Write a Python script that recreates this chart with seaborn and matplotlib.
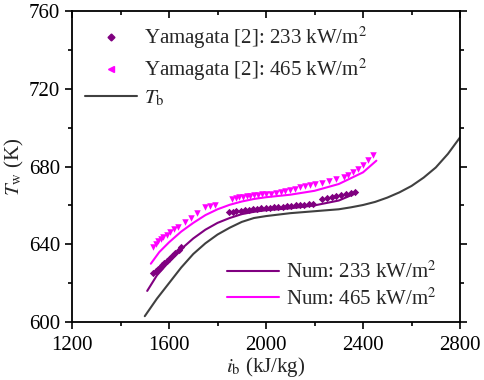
import numpy as np
import pandas as pd
import matplotlib
matplotlib.use("Agg")
import matplotlib.pyplot as plt
import seaborn as sns
from matplotlib.lines import Line2D
from matplotlib.ticker import MultipleLocator

# Bulk fluid temperature T_b vs enthalpy
tb_ib = [1500, 1550, 1600, 1650, 1700, 1750, 1800, 1850, 1900, 1950, 2000, 2100, 2200, 2300,
         2350, 2400, 2450, 2500, 2550, 2600, 2650, 2700, 2750, 2800]
tb_t = [603, 612, 620, 628, 635, 640.5, 645, 648.5, 651.5, 653.5, 654.5, 656, 657, 658,
        659, 660.2, 661.8, 664, 666.7, 670, 674.3, 679.5, 686.5, 695]

# Numerical results
num233_ib = [1510, 1550, 1600, 1650, 1700, 1750, 1800, 1850, 1900, 1950, 2000, 2100, 2200, 2300, 2375]
num233_t = [616, 624, 631, 637.5, 643, 647.5, 651, 653.5, 655.5, 656.7, 657.5, 658.5, 660, 662.5, 666.5]
num465_ib = [1525, 1560, 1600, 1650, 1700, 1750, 1800, 1850, 1900, 1950, 2000, 2100, 2200, 2300, 2400, 2455]
num465_t = [630, 636, 641, 646.5, 651, 655, 658, 660.3, 662, 663.3, 664.2, 665.5, 667.5, 671, 677, 683]

# Yamagata [2] experimental data
y233_ib = [1535, 1545, 1555, 1562, 1570, 1580, 1590, 1600, 1612, 1625, 1640, 1650,
           1846, 1862, 1878, 1895, 1912, 1928, 1945, 1962, 1980, 1998, 2015, 2032,
           2050, 2068, 2086, 2104, 2122, 2140, 2158, 2176, 2194,
           2230, 2250, 2270, 2290, 2310, 2330, 2350, 2368]
y233_t = [625, 626.5, 627.5, 628, 629.5, 630.5, 631.5, 632.5, 634, 635.5, 637, 638.5,
          656.5, 656.8, 657, 657.3, 657.6, 657.8, 658, 658.2, 658.4, 658.6, 658.8, 659,
          659.2, 659.4, 659.6, 659.8, 660, 660.2, 660.4, 660.6, 660.8,
          663.5, 664, 664.5, 665, 665.5, 666, 666.3, 666.7]
y465_ib = [1535, 1545, 1555, 1565, 1575, 1590, 1605, 1620, 1635,
           1665, 1690, 1715, 1750, 1770, 1790,
           1860, 1875, 1890, 1905, 1920, 1935, 1950, 1965, 1985, 2000, 2020, 2040,
           2060, 2080, 2100, 2120, 2140, 2160, 2180, 2200, 2230, 2260, 2290, 2320,
           2340, 2360, 2380, 2400, 2420, 2440]
y465_t = [638.5, 640, 641.5, 642.5, 643.5, 645, 646.5, 648, 649,
          651.5, 653.5, 656, 659, 659.5, 660,
          663.5, 664, 664.5, 664.5, 665, 665, 665.5, 665.5, 666, 666, 666, 666.5,
          667, 667.5, 668, 668.5, 669.5, 670, 670.5, 671, 671.5, 672.5, 673.5, 674.5,
          675.5, 677, 678.5, 681, 683.5, 686]

c233 = "#800080"
c465 = "#ff00ff"
cgray = "#404040"

sns.set_style("ticks")
plt.rcParams["font.family"] = ["Liberation Serif", "DejaVu Serif"]
plt.rcParams["mathtext.fontset"] = "stix"
fs = 15

fig = plt.figure(figsize=(4.84, 3.8), dpi=100)
ax = fig.add_axes([0.1488, 0.1526, 0.8017, 0.8184])

sns.lineplot(x=tb_ib, y=tb_t, color=cgray, linewidth=1.5, ax=ax)
sns.lineplot(x=num233_ib, y=num233_t, color=c233, linewidth=1.5, ax=ax)
sns.lineplot(x=num465_ib, y=num465_t, color=c465, linewidth=1.5, ax=ax)
sns.scatterplot(x=y233_ib, y=y233_t, color=c233, marker="D", s=14, linewidth=0, ax=ax)
sns.scatterplot(x=y465_ib, y=y465_t, color=c465, marker="v", s=22, linewidth=0, ax=ax)

ax.set_xlim(1200, 2800)
ax.set_ylim(600, 760)
ax.xaxis.set_major_locator(MultipleLocator(400))
ax.xaxis.set_minor_locator(MultipleLocator(200))
ax.yaxis.set_major_locator(MultipleLocator(40))
ax.yaxis.set_minor_locator(MultipleLocator(20))
ax.tick_params(which="both", labelsize=fs, width=1.2, color="black", labelcolor="black",
               direction="out", top=True, right=True)
ax.tick_params(which="major", length=5)
ax.tick_params(which="minor", length=3)
ax.xaxis.set_tick_params(which="both", pad=5)
# top/right ticks point inward, bottom/left outward
for t in ax.xaxis.get_major_ticks() + ax.xaxis.get_minor_ticks():
    t.tick2line.set_marker(3)
for t in ax.yaxis.get_major_ticks() + ax.yaxis.get_minor_ticks():
    t.tick2line.set_marker(1)
for s in ax.spines.values():
    s.set_linewidth(1.3)
    s.set_color("black")
    s.set_visible(True)

ax.set_xlabel(r"$i_\mathrm{b}$ (kJ/kg)", fontsize=fs, labelpad=0)
ax.set_ylabel(r"$T_\mathrm{w}$ (K)", fontsize=fs, labelpad=2)

h1 = [Line2D([], [], color=c233, marker="D", markersize=3.5, linestyle="none"),
      Line2D([], [], color=c465, marker="<", markersize=4.5, linestyle="none"),
      Line2D([], [], color=cgray, linewidth=1.5)]
l1 = [r"Yamagata [2]: 233 kW/m$^2$", r"Yamagata [2]: 465 kW/m$^2$", r"$T_\mathrm{b}$"]
leg1 = ax.legend(h1, l1, loc="upper left", bbox_to_anchor=(0.0335, 0.955), frameon=False,
                 fontsize=fs, borderpad=0, borderaxespad=0, handlelength=2.5,
                 handletextpad=0.35, labelspacing=0.25)
ax.add_artist(leg1)

h2 = [Line2D([], [], color=c233, linewidth=1.5), Line2D([], [], color=c465, linewidth=1.5)]
l2 = [r"Num: 233 kW/m$^2$", r"Num: 465 kW/m$^2$"]
ax.legend(h2, l2, loc="lower left", bbox_to_anchor=(0.40, 0.04), frameon=False,
          fontsize=fs, borderpad=0, borderaxespad=0, handlelength=2.5,
          handletextpad=0.3, labelspacing=0.25)

fig.savefig("out.png", dpi=100)
